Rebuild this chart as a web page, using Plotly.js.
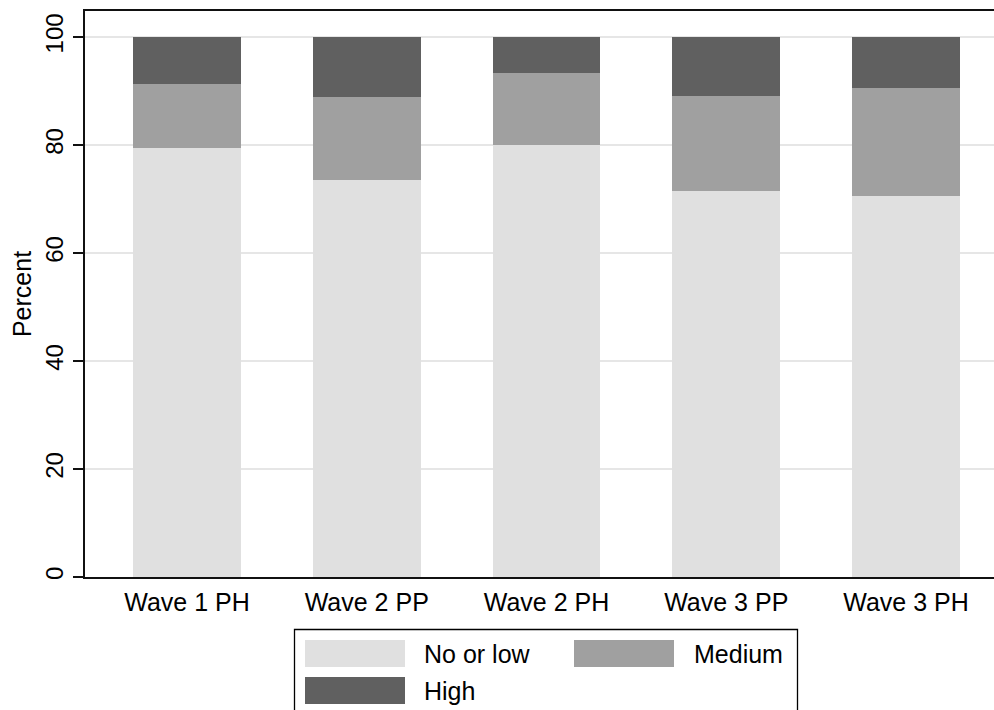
<!DOCTYPE html>
<html>
<head>
<meta charset="utf-8">
<script src="https://cdn.plot.ly/plotly-3.0.1.min.js"></script>
<style>html,body{margin:0;padding:0;background:#fff;}#chart{width:994px;height:710px;}</style>
</head>
<body>
<div id="chart"></div>
<script>
// ---- data ----
const categories = ["Wave 1 PH", "Wave 2 PP", "Wave 2 PH", "Wave 3 PP", "Wave 3 PH"];
const seriesNames = ["No or low", "Medium", "High"];
const noOrLow = [79.4, 73.5, 80.0, 71.5, 70.6];
const medium  = [11.9, 15.4, 13.3, 17.5, 20.0];
const high    = [8.7, 11.1, 6.7, 11.0, 9.4];
const yTickVals = [0, 20, 40, 60, 80, 100];
const yTickText = ["0", "20", "40", "60", "80", "100"];

const colors = ["#e0e0e0", "#a0a0a0", "#606060"];
const FONT = "Liberation Sans, Arial, Helvetica, sans-serif";

const W = 994, H = 710;
const M = {l: 85, r: 0, t: 11, b: 133};
const PW = W - M.l - M.r, PH = H - M.t - M.b;
const px = x => (x - M.l) / PW;
const py = y => (H - M.b - y) / PH;

const values = [noOrLow, medium, high];
const traces = values.map((v, i) => ({
  type: "bar",
  name: seriesNames[i],
  x: categories,
  y: v,
  marker: {color: colors[i], line: {width: 0}},
  hoverinfo: "skip",
  showlegend: false
}));

// custom Stata-style legend (box, swatches, labels)
const legendItems = [
  {sx: 305, sy: 640, tx: 422, ty: 653.5},
  {sx: 574, sy: 640, tx: 692, ty: 653.5},
  {sx: 305, sy: 677, tx: 422, ty: 690.5}
];
const shapes = [{
  type: "rect", xref: "paper", yref: "paper",
  x0: px(294.5), x1: px(797.5), y0: py(629.5), y1: py(730),
  line: {color: "#000", width: 1.3}, fillcolor: "rgba(0,0,0,0)", layer: "above"
}];
const annotations = [];
legendItems.forEach((it, i) => {
  shapes.push({
    type: "rect", xref: "paper", yref: "paper",
    x0: px(it.sx), x1: px(it.sx + 100), y0: py(it.sy + 27), y1: py(it.sy),
    line: {width: 0}, fillcolor: colors[i], layer: "above"
  });
  annotations.push({
    xref: "paper", yref: "paper", x: px(it.tx), y: py(it.ty),
    xanchor: "left", yanchor: "middle", showarrow: false,
    text: seriesNames[i], font: {family: FONT, size: 25, color: "#000"}
  });
});

const layout = {
  width: W, height: H,
  margin: M,
  paper_bgcolor: "#fff", plot_bgcolor: "#fff",
  barmode: "stack",
  bargap: 0.4,
  font: {family: FONT, size: 25, color: "#000"},
  xaxis: {
    type: "category",
    range: [-0.5675, 4.4896],
    showgrid: false, zeroline: false,
    showline: true, linecolor: "#111", linewidth: 2, mirror: true,
    ticks: "", tickfont: {family: FONT, size: 25, color: "#000"},
    ticklabelstandoff: 2
  },
  yaxis: {
    range: [0, 566 / 5.4],
    tickvals: yTickVals, ticktext: yTickText,
    tickangle: -90,
    ticks: "outside", ticklen: 10, tickwidth: 1.5, tickcolor: "#111",
    tickfont: {family: FONT, size: 24, color: "#000"},
    showgrid: true, gridcolor: "#e6e6e6", gridwidth: 2,
    zeroline: false,
    showline: true, linecolor: "#111", linewidth: 2,
    title: {text: "Percent", font: {family: FONT, size: 25, color: "#000"}, standoff: 3}
  },
  shapes: shapes,
  annotations: annotations
};

Plotly.newPlot("chart", traces, layout, {displayModeBar: false, staticPlot: true});
</script>
</body>
</html>
